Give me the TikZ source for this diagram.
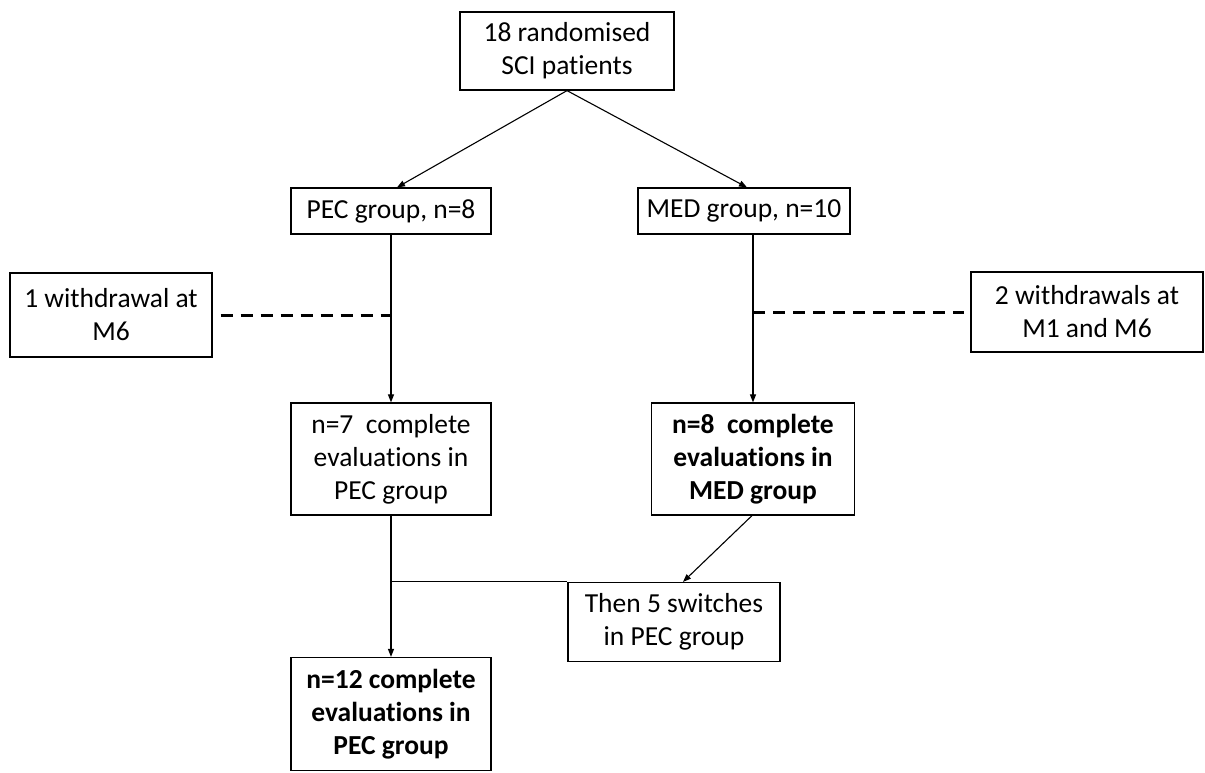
\documentclass[tikz,border=0pt]{standalone}
\usepackage{fontspec}
\setmainfont[Ligatures=NoCommon]{Carlito}
\usetikzlibrary{arrows.meta,calc}
\begin{document}
\begin{tikzpicture}[x=1pt,y=-1pt,
  box/.style={draw,line width=1.2pt,rectangle,align=center,inner sep=0pt,
    font=\fontsize{27.5}{33}\selectfont},
  bbox/.style={box,font=\fontsize{27.5}{33}\selectfont\bfseries},
  conn/.style={line width=1.1pt,-{Triangle[length=8pt,width=6pt]}},
  plain/.style={line width=1.1pt},
  wd/.style={line width=3pt,dash pattern=on 12pt off 8pt}]
\useasboundingbox (0,0) rectangle (1205,772);
\node[box,minimum width=214pt,minimum height=78pt] (top) at (567,51) {18 randomised\\SCI patients};
\node[box,minimum width=200pt,minimum height=46pt] (pec) at (391,211) {PEC group, n=8};
\node[box,minimum width=212pt,minimum height=46pt] (med) at (744,211) {MED group, n=10};
\node[box,minimum width=202pt,minimum height=84pt] (lwd) at (111,315) {1 withdrawal at\\M6};
\node[box,minimum width=232pt,minimum height=80pt] (rwd) at (1087,312) {2 withdrawals at\\M1 and M6};
\node[box,minimum width=200pt,minimum height=112pt] (n7) at (391,459) {n=7~ complete\\evaluations in\\PEC group};
\node[bbox,minimum width=203pt,minimum height=112pt] (n8) at (753,459) {n=8~ complete\\evaluations in\\MED group};
\node[box,minimum width=212pt,minimum height=79pt] (then) at (674,622) {Then 5 switches\\in PEC group};
\node[bbox,minimum width=200pt,minimum height=113pt] (n12) at (391,714) {n=12 complete\\evaluations in\\PEC group};
\coordinate (j) at (n7.south |- then.north);
\coordinate (lj) at (n7.north |- lwd.east);
\coordinate (rj) at (n8.north |- rwd.west);
\draw[conn] (top.south) -- ($(pec.north)+(6,0)$);
\draw[conn] (top.south) -- ($(med.north)+(3,0)$);
\draw[conn] (pec.south -| n7.north) -- (n7.north);
\draw[conn] (n8.north |- med.south) -- (n8.north);
\draw[wd] ([xshift=8pt]lwd.east) -- (lj);
\draw[wd] (rj) -- ([xshift=-6pt]rwd.west);
\draw[plain] (n7.south) -- (j) -- (then.north west);
\draw[conn] (j) -- (n12.north);
\draw[conn] ($(n8.south)+(-1,0)$) -- ($(then.north)+(9,0)$);
\end{tikzpicture}
\end{document}
